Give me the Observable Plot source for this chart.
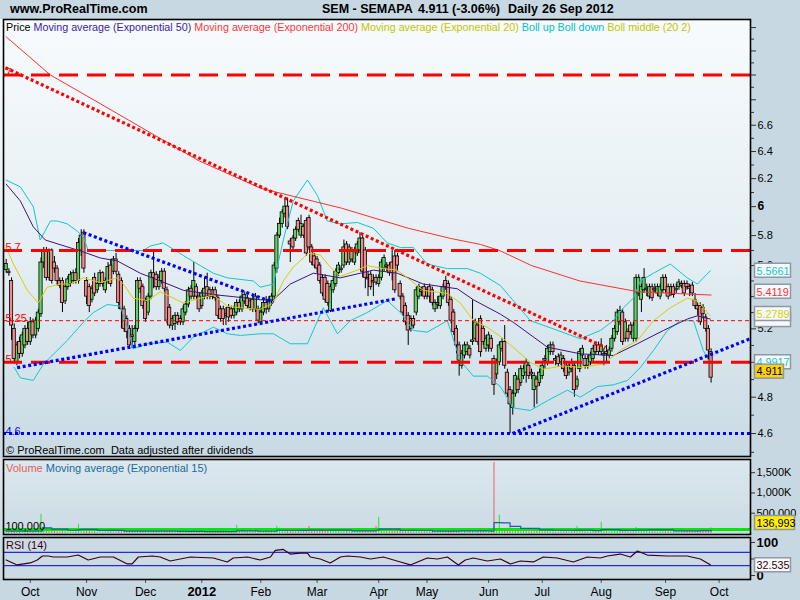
<!DOCTYPE html>
<html><head><meta charset="utf-8">
<script src="https://cdn.jsdelivr.net/npm/d3@7"></script>
<script src="https://cdn.jsdelivr.net/npm/@observablehq/plot@0.6"></script>
<style>
html,body{margin:0;padding:0;background:#c8d8e2;}
#wrap{position:relative;width:800px;height:600px;overflow:hidden;background:#c8d8e2;font-family:"Liberation Sans",Arial,sans-serif;}
.abs{position:absolute;white-space:pre;line-height:14px;}
.pl{position:absolute;left:0;}
</style></head><body><div id="wrap">
<div class="abs" style="left:0;top:19px;width:750px;height:437px;background:linear-gradient(#f7fbfd,#e4eef3 55%,#c9dae4);"></div>
<div class="abs" style="left:0;top:459px;width:750px;height:75px;background:linear-gradient(#dce8ee,#cbdbe4);"></div>
<div class="abs" style="left:0;top:537px;width:750px;height:42px;background:#cbdbe4;"></div>
</div>
<script>
// ---------- DATA ----------
const firstDay = -9; // trading-day index of first candle (0 = 3 Oct 2011)
// daily candles [open, high, low, close]
const candleOHLC = [
[5.57,5.64,5.55,5.61],[5.56,5.58,5.53,5.55],[5.50,5.52,5.13,5.22],[5.20,5.23,4.99,5.02],[5.00,5.12,4.98,5.10],[5.12,5.15,5.02,5.05],[5.05,5.18,5.03,5.16],[5.10,5.22,5.08,5.20],[5.20,5.24,5.10,5.12],[5.12,5.27,5.10,5.24],
[5.24,5.26,5.14,5.16],[5.16,5.27,5.14,5.25],[5.20,5.32,5.18,5.30],[5.29,5.65,5.27,5.62],[5.62,5.72,5.58,5.70],[5.70,5.72,5.50,5.52],[5.52,5.71,5.50,5.70],[5.70,5.71,5.48,5.50],[5.62,5.66,5.55,5.58],[5.58,5.60,5.47,5.50],
[5.50,5.52,5.45,5.47],[5.50,5.52,5.30,5.36],[5.37,5.48,5.35,5.46],[5.46,5.53,5.44,5.51],[5.48,5.56,5.46,5.54],[5.50,5.57,5.48,5.55],[5.55,5.58,5.48,5.50],[5.50,5.78,5.48,5.75],[5.70,5.84,5.66,5.80],[5.82,5.84,5.55,5.58],
[5.50,5.52,5.35,5.40],[5.46,5.48,5.30,5.34],[5.38,5.47,5.36,5.45],[5.52,5.55,5.40,5.42],[5.44,5.50,5.42,5.48],[5.48,5.57,5.46,5.55],[5.55,5.56,5.46,5.48],[5.44,5.52,5.42,5.50],[5.50,5.62,5.48,5.59],[5.60,5.64,5.46,5.48],
[5.56,5.66,5.54,5.64],[5.64,5.68,5.54,5.56],[5.54,5.56,5.32,5.36],[5.50,5.52,5.20,5.32],[5.32,5.34,5.18,5.20],[5.26,5.28,5.14,5.18],[5.20,5.22,5.08,5.10],[5.16,5.22,5.08,5.15],[5.12,5.22,5.10,5.20],[5.20,5.52,5.18,5.50],
[5.50,5.52,5.42,5.45],[5.46,5.48,5.32,5.34],[5.37,5.39,5.24,5.26],[5.30,5.42,5.28,5.40],[5.40,5.57,5.38,5.55],[5.55,5.70,5.45,5.52],[5.54,5.56,5.44,5.46],[5.46,5.54,5.44,5.52],[5.50,5.58,5.48,5.56],[5.56,5.58,5.43,5.45],
[5.44,5.46,5.23,5.25],[5.33,5.35,5.20,5.22],[5.22,5.28,5.19,5.26],[5.23,5.30,5.19,5.28],[5.28,5.30,5.22,5.24],[5.26,5.28,5.22,5.24],[5.24,5.34,5.22,5.32],[5.30,5.37,5.28,5.35],[5.35,5.46,5.33,5.44],[5.45,5.47,5.38,5.40],
[5.40,5.62,5.38,5.50],[5.46,5.48,5.38,5.40],[5.40,5.42,5.30,5.32],[5.34,5.44,5.32,5.42],[5.40,5.52,5.38,5.45],[5.46,5.55,5.38,5.40],[5.44,5.46,5.38,5.40],[5.40,5.46,5.38,5.44],[5.44,5.46,5.37,5.39],[5.39,5.41,5.26,5.28],
[5.32,5.34,5.24,5.26],[5.32,5.34,5.22,5.26],[5.28,5.33,5.22,5.29],[5.33,5.35,5.24,5.27],[5.32,5.34,5.26,5.28],[5.28,5.34,5.26,5.32],[5.30,5.38,5.28,5.36],[5.36,5.38,5.30,5.32],[5.32,5.42,5.30,5.40],[5.37,5.43,5.35,5.41],
[5.39,5.41,5.32,5.34],[5.33,5.39,5.31,5.37],[5.38,5.40,5.30,5.32],[5.32,5.42,5.30,5.40],[5.32,5.34,5.23,5.25],[5.24,5.33,5.22,5.30],[5.30,5.38,5.28,5.36],[5.36,5.40,5.29,5.32],[5.32,5.40,5.30,5.38],[5.37,5.42,5.34,5.40],
[5.40,5.62,5.38,5.60],[5.58,5.82,5.55,5.80],[5.80,5.92,5.78,5.88],[5.88,5.98,5.85,5.96],[5.95,6.06,5.92,6.00],[6.00,6.06,5.84,5.86],[5.76,5.78,5.62,5.74],[5.78,5.80,5.70,5.72],[5.78,5.86,5.76,5.84],[5.90,5.92,5.82,5.84],
[5.80,5.94,5.78,5.88],[5.86,5.88,5.78,5.80],[5.90,5.92,5.66,5.68],[5.92,5.94,5.70,5.72],[5.72,5.74,5.60,5.62],[5.66,5.68,5.58,5.60],[5.64,5.66,5.55,5.58],[5.60,5.62,5.48,5.50],[5.52,5.54,5.40,5.42],[5.52,5.54,5.36,5.38],
[5.48,5.50,5.34,5.36],[5.31,5.48,5.30,5.46],[5.44,5.52,5.42,5.50],[5.48,5.58,5.46,5.56],[5.55,5.62,5.53,5.60],[5.57,5.60,5.55,5.58],[5.60,5.77,5.58,5.72],[5.74,5.76,5.60,5.62],[5.62,5.74,5.60,5.72],[5.70,5.72,5.62,5.64],
[5.62,5.72,5.60,5.70],[5.68,5.76,5.66,5.74],[5.70,5.82,5.68,5.78],[5.78,5.80,5.52,5.56],[5.70,5.72,5.45,5.52],[5.52,5.56,5.40,5.51],[5.54,5.56,5.44,5.46],[5.50,5.54,5.40,5.49],[5.52,5.54,5.47,5.49],[5.48,5.54,5.46,5.52],
[5.52,5.64,5.50,5.62],[5.58,5.67,5.56,5.65],[5.60,5.62,5.56,5.59],[5.60,5.62,5.53,5.55],[5.62,5.70,5.50,5.55],[5.66,5.70,5.42,5.44],[5.66,5.68,5.56,5.60],[5.48,5.50,5.38,5.40],[5.40,5.42,5.28,5.30],[5.34,5.36,5.22,5.24],
[5.28,5.30,5.10,5.19],[5.20,5.28,5.18,5.26],[5.26,5.28,5.20,5.22],[5.30,5.46,5.28,5.44],[5.40,5.48,5.38,5.46],[5.44,5.46,5.40,5.43],[5.46,5.48,5.38,5.40],[5.40,5.46,5.38,5.44],[5.46,5.48,5.36,5.40],[5.44,5.46,5.34,5.36],
[5.32,5.38,5.30,5.36],[5.36,5.40,5.32,5.35],[5.34,5.42,5.32,5.40],[5.40,5.48,5.38,5.46],[5.50,5.53,5.44,5.46],[5.48,5.50,5.34,5.36],[5.38,5.40,5.23,5.25],[5.30,5.32,5.16,5.18],[5.20,5.22,5.05,5.10],[5.10,5.12,4.92,5.01],
[4.98,5.07,4.96,5.05],[5.04,5.12,5.02,5.10],[5.06,5.12,5.04,5.10],[5.08,5.10,5.02,5.04],[5.12,5.38,5.10,5.13],[5.14,5.26,5.12,5.24],[5.22,5.24,5.10,5.12],[5.26,5.28,5.03,5.06],[5.20,5.22,5.10,5.12],[5.08,5.16,5.06,5.14],
[5.10,5.18,5.06,5.16],[5.14,5.16,5.06,5.08],[5.02,5.04,4.81,4.87],[4.93,5.02,4.90,5.00],[5.00,5.12,4.98,5.10],[5.08,5.14,5.06,5.12],[5.12,5.22,4.96,4.98],[4.94,4.96,4.80,4.82],[4.84,4.86,4.60,4.76],[4.74,4.84,4.70,4.82],
[4.82,4.94,4.80,4.92],[4.90,4.92,4.82,4.84],[4.88,4.98,4.86,4.96],[4.92,4.98,4.90,4.96],[4.94,5.02,4.88,5.00],[4.98,5.00,4.90,4.92],[4.94,4.96,4.90,4.93],[4.84,4.94,4.74,4.92],[4.90,4.92,4.76,4.86],[4.88,4.96,4.86,4.94],
[4.92,5.00,4.90,4.98],[5.02,5.04,4.96,5.01],[5.00,5.10,4.98,5.08],[5.06,5.12,5.04,5.10],[5.10,5.12,5.04,5.06],[5.02,5.04,4.98,5.01],[5.03,5.05,4.97,4.99],[5.00,5.06,4.98,5.04],[5.02,5.04,4.94,4.96],[4.98,5.00,4.90,4.92],
[4.94,5.00,4.92,4.98],[5.00,5.02,4.94,4.96],[4.98,5.00,4.80,4.84],[4.86,4.92,4.84,4.90],[4.96,5.08,4.94,5.06],[5.04,5.10,5.02,5.08],[5.02,5.04,4.96,4.98],[4.98,5.04,4.96,5.02],[5.00,5.06,4.98,5.04],[5.02,5.10,5.00,5.08],
[5.10,5.12,5.04,5.06],[5.10,5.12,5.04,5.06],[5.06,5.14,5.04,5.10],[5.04,5.08,4.98,5.05],[5.06,5.10,5.00,5.05],[5.04,5.09,5.02,5.07],[5.08,5.16,5.06,5.14],[5.14,5.22,5.12,5.20],[5.18,5.32,5.16,5.30],[5.24,5.34,5.22,5.31],
[5.30,5.32,5.10,5.12],[5.14,5.26,5.12,5.24],[5.18,5.20,5.12,5.14],[5.22,5.24,5.16,5.18],[5.14,5.24,5.12,5.22],[5.14,5.54,5.12,5.52],[5.42,5.54,5.40,5.52],[5.38,5.48,5.30,5.46],[5.44,5.58,5.42,5.52],[5.44,5.48,5.40,5.45],
[5.40,5.48,5.38,5.46],[5.46,5.48,5.37,5.39],[5.45,5.48,5.42,5.44],[5.42,5.48,5.40,5.46],[5.40,5.48,5.38,5.46],[5.44,5.54,5.42,5.52],[5.52,5.54,5.42,5.44],[5.46,5.48,5.38,5.40],[5.42,5.48,5.40,5.46],[5.46,5.48,5.39,5.41],
[5.44,5.48,5.42,5.45],[5.46,5.51,5.44,5.49],[5.48,5.50,5.45,5.47],[5.48,5.50,5.40,5.42],[5.48,5.50,5.44,5.46],[5.46,5.48,5.40,5.45],[5.47,5.49,5.40,5.42],[5.38,5.42,5.32,5.34],[5.34,5.36,5.28,5.32],[5.34,5.36,5.22,5.24],
[5.33,5.35,5.26,5.29],[5.27,5.29,5.18,5.20],[5.20,5.22,5.00,5.07],[5.06,5.08,4.88,4.911]
];
// daily volume, thousands of shares
const volumeK = [
40,30,90,110,150,60,70,50,60,55,
45,40,70,475,120,80,60,70,50,40,
35,60,40,30,35,30,40,225,110,80,
60,45,40,50,35,40,30,35,50,45,
40,35,60,70,50,45,60,40,35,90,
50,45,40,35,60,70,40,30,35,45,
60,50,40,35,30,25,40,35,50,40,
60,35,40,30,35,45,30,25,30,40,
35,40,30,45,35,40,200,50,60,45,
40,35,30,50,60,40,35,45,50,60,
110,175,130,90,100,80,70,60,50,55,
60,50,70,175,80,60,50,45,70,60,
50,60,125,70,50,40,60,50,45,40,
50,45,60,80,70,50,40,45,175,400,
80,60,50,40,60,90,70,60,70,80,
90,50,40,70,60,40,45,50,40,50,
35,30,40,50,45,60,70,80,90,110,
70,60,50,45,70,60,50,80,60,50,
45,50,1750,120,450,100,90,130,150,100,
80,60,70,50,60,40,35,60,50,45,
40,50,60,45,40,35,30,40,35,50,
40,45,100,175,60,70,40,35,40,45,
40,35,275,50,40,35,45,60,80,70,
90,50,40,35,45,150,100,125,125,60,
50,45,40,35,40,60,50,45,40,35,
40,35,30,40,100,45,40,60,70,60,
80,90,125,137
];
// indicator lines [tradingDay, value]
const ema200 = [[-9,7.32],[7.5,7.00],[26,6.77],[45,6.54],[63,6.33],[86,6.13],[116,5.99],[141,5.85],[157,5.78],[168,5.74],[175,5.70],[187,5.60],[205,5.50],[227,5.43],[254,5.41]];
const ema50 = [[-9,6.16],[-3.7,6.04],[1.1,5.86],[5.6,5.77],[19.8,5.69],[26.1,5.65],[32.5,5.63],[41,5.55],[48.5,5.50],[57.1,5.44],[69.8,5.41],[75.7,5.40],[85.8,5.38],[90.7,5.38],[97,5.48],[105.6,5.55],[115.7,5.52],[128,5.57],[136.9,5.55],[146.6,5.48],[159.3,5.45],[165.3,5.38],[175.4,5.29],[180.2,5.24],[192.9,5.09],[205.2,5.05],[217.5,5.04],[226.5,5.11],[236.2,5.19],[245.1,5.26],[248.9,5.28],[253.7,5.26]];
const ema20 = [[-9,5.72],[-6.3,5.61],[-1.1,5.44],[3,5.36],[6.3,5.46],[11.2,5.48],[14.9,5.48],[19.8,5.52],[26.1,5.49],[32.5,5.52],[34.7,5.48],[38.4,5.39],[43.7,5.375],[48.5,5.43],[53.4,5.39],[57.1,5.36],[63.4,5.39],[68.3,5.41],[73.5,5.34],[78.4,5.33],[85.8,5.32],[90.7,5.36],[94.4,5.50],[98.1,5.59],[103.7,5.68],[108.2,5.67],[111.9,5.59],[115.7,5.53],[122,5.57],[125.7,5.60],[131.7,5.58],[136.9,5.57],[140.7,5.52],[146.6,5.44],[155.6,5.42],[160.4,5.36],[165.3,5.25],[170.5,5.21],[176.5,5.14],[186.6,5.00],[191.4,4.96],[198.9,4.98],[205.2,4.97],[213.8,4.99],[220.1,5.07],[226.5,5.13],[232.5,5.25],[238.8,5.33],[245.1,5.39],[248.9,5.375],[253.7,5.2789]];
const bollUp = [[-9,6.19],[-3.7,6.14],[1.1,6.00],[3.7,5.77],[7.5,5.90],[10.1,5.90],[13.8,5.88],[17.5,5.83],[19.8,5.79],[21.6,5.70],[29.9,5.70],[42.2,5.70],[44.8,5.73],[49.6,5.75],[58.6,5.65],[63.4,5.60],[68.3,5.55],[73.5,5.52],[83.2,5.50],[85.8,5.46],[90.7,5.48],[94.4,5.77],[98.1,6.04],[103.4,6.19],[107.1,6.08],[110.8,5.90],[115.7,5.88],[122,5.89],[128,5.85],[133.2,5.75],[138.1,5.72],[142.9,5.72],[148.1,5.61],[155.6,5.58],[163.1,5.58],[167.9,5.55],[175.4,5.47],[186.6,5.25],[195.1,5.20],[205.2,5.14],[212.7,5.19],[217.5,5.25],[221.3,5.33],[225,5.39],[227.6,5.50],[232.5,5.55],[238.8,5.61],[245.1,5.52],[248.9,5.48],[253.7,5.5661]];
const bollDown = [[-6,4.97],[-3.7,4.91],[1.1,4.895],[4.9,4.99],[7.5,5.03],[13.8,5.13],[19.8,5.24],[23.5,5.30],[28.7,5.35],[33.6,5.34],[36.2,5.21],[38.4,5.08],[43.7,5.11],[51.1,5.12],[56,5.07],[60.8,5.15],[68.3,5.21],[73.5,5.17],[78.4,5.16],[85.8,5.17],[90.7,5.17],[97,5.11],[103.4,5.11],[109.3,5.33],[114.6,5.17],[119.4,5.25],[125.7,5.30],[133.2,5.375],[138.1,5.30],[142.9,5.19],[148.1,5.18],[155.6,5.25],[160.4,5.01],[165.3,4.92],[170.5,4.92],[175.4,4.86],[180.2,4.74],[186.6,4.726],[192.9,4.78],[200.4,4.84],[205.2,4.80],[211.6,4.86],[217.5,4.87],[222.8,4.895],[227.6,4.97],[232.5,5.07],[237.7,5.19],[242.5,5.25],[247.4,5.25],[251.1,5.07],[253.7,4.9917]];
const volEma15 = [[-9,60],[3,55],[4.5,140],[8,110],[14,80],[18,95],[19,100],[25,75],[35,60],[45,60],[55,50],[65,45],[76,45],[77,65],[85,55],[92,80],[100,75],[104,85],[113,85],[120,65],[129,80],[130,110],[138,80],[150,60],[160,65],[172,55],[173,270],[176,260],[179,175],[183,125],[190,90],[195,80],[203,85],[210,70],[213,95],[220,75],[226,85],[230,90],[240,65],[250,70],[254,75]];
const rsi14 = [[-9,47],[-4.9,32],[0,38],[2.6,47],[4.5,59],[6.7,59],[8.6,56],[13.8,56],[17.9,62],[21.6,47],[26.1,56],[31,56],[36.2,35],[38,35],[40.3,56],[45.5,59],[48.5,56],[52.2,44],[59.7,56],[68.3,53],[73.5,41],[75.7,53],[81,56],[85.8,47],[89.6,56],[91.4,76],[94.4,79],[97,65],[100.7,68],[103.4,68],[104.5,56],[108.2,50],[111.9,38],[115.7,56],[118.3,59],[123.1,56],[126.9,50],[131.7,56],[138.1,41],[141.8,32],[148.1,53],[151.9,50],[155.6,56],[159.7,32],[162.3,47],[165.3,53],[170.5,44],[175.4,50],[179.1,35],[182.8,44],[187.7,41],[191.4,56],[196.6,53],[202.6,41],[207.8,56],[212.7,53],[215.3,59],[220.1,65],[223.9,56],[226.5,74],[230.2,62],[237.7,59],[242.5,59],[245.1,59],[250,50],[253.7,32.535]];
// drawn levels & trendlines
const redLevels = [7, 5.7, 5];
const thinRedLevels = [5.25];
const blueLevels = [4.6];
const redTrend = [[-9.3,7.06],[214.6,5.087]];
const blueTrendA = [[19.8,5.82],[90.7,5.363]];
const blueTrendB = [[-4.9,4.969],[136.9,5.388]];
const blueTrendC = [[179.9,4.60],[268.7,5.141]];
const volumeLevels = [100];
const rsiLevels = [70, 30];
// last values (third one is the EMA50 tag, covered by the EMA20 tag)
const lastValues = [5.5661, 5.4119, 5.26, 5.2789, 4.9917, 4.911];
const lastVolume = 136993;
const lastRsi = 32.535;
// axis ticks (labels fully hidden behind value boxes omitted)
const priceTicks = [4.6,4.8,5.2,5.6,5.8,6.2,6.4,6.6,6.8,7.2,7.4];
const priceBoldTicks = [6,7];
const priceMinorTicks = [4.5,4.7,4.9,5,5.1,5.3,5.4,5.5,5.7,5.9,6.1,6.3,6.5,6.7,6.9,7.1,7.3];
const volTicks = [500,1000,1500];
const rsiTicks = [0,100];
const rsiMinorTicks = [50];
const monthTickDays = [0,21,43,64,86,107,130,148,171,191,213,237,257];
const monthTickLabels = ["Oct","Nov","Dec","2012","Feb","Mar","Apr","May","Jun","Jul","Aug","Sep","Oct"];

// ---------- BUILD ----------
const rows = candleOHLC.map((d,k)=>({i:firstDay+k,o:d[0],h:d[1],l:d[2],c:d[3]}));
const vols = volumeK.map((v,k)=>({i:firstDay+k,v,up:rows[k].c>=rows[k].o}));
const volUp = vols.filter(d=>d.up), volDown = vols.filter(d=>!d.up);
const FONT = "Liberation Sans, Arial, sans-serif";
const common = {width:800, marginLeft:3, marginRight:50, x:{domain:[-10,268.7], axis:null},
  style:{background:"transparent", overflow:"visible", fontFamily:FONT, color:"#000"}};
const P = d=>d[0], V = d=>d[1];
const dotted = {strokeWidth:3.2, strokeDasharray:"3,2.6", strokeLinecap:"butt"};
const isUp = d=>d.c>=d.o, isDown = d=>d.c<d.o;
const body = {x1:d=>d.i-0.6,x2:d=>d.i+0.6,y1:"o",y2:"c",stroke:"#000",strokeWidth:0.8};

const main = Plot.plot({...common, height:437, marginTop:0, marginBottom:0,
  y:{type:"log", domain:[4.478,7.47], axis:null},
  marks:[
    Plot.ruleX(rows,{x:"i",y1:"l",y2:"h",stroke:"#000",strokeWidth:1}),
    Plot.rect(rows,{...body,filter:isUp,fill:"#5fd35f"}),
    Plot.rect(rows,{...body,filter:isDown,fill:"#f28a8a"}),
    Plot.line(bollUp,{x:P,y:V,stroke:"#10c8d0",strokeWidth:1}),
    Plot.line(bollDown,{x:P,y:V,stroke:"#10c8d0",strokeWidth:1}),
    Plot.line(ema200,{x:P,y:V,stroke:"#ff3030",strokeWidth:1}),
    Plot.line(ema50,{x:P,y:V,stroke:"#40108c",strokeWidth:1}),
    Plot.line(ema20,{x:P,y:V,stroke:"#d4d000",strokeWidth:1}),
    Plot.ruleY(redLevels,{stroke:"#ff0000",strokeWidth:3,strokeDasharray:"19,9",strokeLinecap:"butt"}),
    Plot.ruleY(thinRedLevels,{stroke:"#ff0000",strokeWidth:1,strokeDasharray:"4,3",strokeLinecap:"butt"}),
    Plot.ruleY(blueLevels,{stroke:"#0000ff",strokeWidth:3,strokeDasharray:"3,3",strokeLinecap:"butt"}),
    Plot.line(redTrend,{x:P,y:V,stroke:"#ff0000",...dotted}),
    Plot.line(blueTrendA,{x:P,y:V,stroke:"#0000ff",...dotted}),
    Plot.line(blueTrendB,{x:P,y:V,stroke:"#0000ff",...dotted}),
    Plot.line(blueTrendC,{x:P,y:V,stroke:"#0000ff",...dotted}),
    Plot.text(redLevels.concat(thinRedLevels),{x:-9.3,y:d=>d,text:d=>String(d),fill:"#ff0000",textAnchor:"start",lineAnchor:"bottom",dy:1,fontSize:11}),
    Plot.text(blueLevels,{x:-9.3,y:d=>d,text:d=>String(d),fill:"#0000ff",textAnchor:"start",lineAnchor:"bottom",dy:1,fontSize:11}),
    Plot.axisY({anchor:"right",ticks:priceMinorTicks,tickSize:3,tickFormat:null,text:null,stroke:"#333"}),
    Plot.axisY({anchor:"right",ticks:priceTicks,tickSize:5,tickPadding:2,fontSize:11,tickFormat:d=>String(+d.toFixed(1)),stroke:"#333"}),
    Plot.axisY({anchor:"right",ticks:priceBoldTicks,tickSize:5,tickPadding:2,fontSize:12,fontWeight:"bold",tickFormat:d=>String(d),stroke:"#333"}),
    Plot.frame({stroke:"#000",strokeWidth:1.6})
  ]});

const vol = Plot.plot({...common, height:75, marginTop:0, marginBottom:0,
  y:{domain:[-25,1825], axis:null},
  marks:[
    Plot.ruleX(volUp,{x:"i",y1:()=>0,y2:"v",stroke:"#33dd33",strokeWidth:1}),
    Plot.ruleX(volDown,{x:"i",y1:()=>0,y2:"v",stroke:"#ee6060",strokeWidth:1}),
    Plot.ruleY(volumeLevels,{stroke:"#00e800",strokeWidth:3}),
    Plot.line(volEma15,{x:P,y:V,stroke:"#1a5fa0",strokeWidth:1.2,curve:"step-after"}),
    Plot.text(volumeLevels,{x:-9.3,y:d=>d,text:d=>d3.format(",")(d*1000),textAnchor:"start",lineAnchor:"bottom",dy:1,fontSize:11,fill:"#000"}),
    Plot.axisY({anchor:"right",ticks:volTicks,tickSize:4,tickPadding:2,fontSize:11,tickFormat:d=>d===500?"500,000":d3.format(",")(d)+"K",stroke:"#333"}),
    Plot.frame({stroke:"#000",strokeWidth:1.6})
  ]});

const tickLabel = new Map(monthTickDays.map((d,k)=>[d,monthTickLabels[k]]));
const rsi = Plot.plot({...common, height:63, marginTop:0, marginBottom:21,
  y:{domain:[-12,115], axis:null},
  marks:[
    Plot.ruleY(rsiLevels,{stroke:"#2828e0",strokeWidth:1.2}),
    Plot.line(rsi14,{x:P,y:V,stroke:"#3a0012",strokeWidth:1.2}),
    Plot.axisY({anchor:"right",ticks:rsiMinorTicks,tickSize:4,tickFormat:null,text:null,stroke:"#333"}),
    Plot.axisY({anchor:"right",ticks:rsiTicks,tickSize:4,tickPadding:2,fontSize:13,fontWeight:"bold",stroke:"#333"}),
    Plot.axisX({anchor:"bottom",ticks:monthTickDays.filter(d=>d!==64),tickSize:4,tickPadding:4,fontSize:12,tickFormat:d=>tickLabel.get(d),stroke:"#555"}),
    Plot.axisX({anchor:"bottom",ticks:[64],tickSize:4,tickPadding:3,fontSize:13,fontWeight:"bold",tickFormat:d=>tickLabel.get(d),stroke:"#555"}),
    Plot.frame({stroke:"#000",strokeWidth:1.6})
  ]});

const wrap = document.getElementById("wrap");
function place(svg, top){ svg.classList.add("pl"); svg.style.top = top+"px"; wrap.appendChild(svg); }
place(main,19); place(vol,459); place(rsi,537);

// remove stray glyphs (e.g. Plot's warning sign) sitting right of the 1,500K label
function dropStray(){
  const wr = wrap.getBoundingClientRect();
  [main,vol,rsi].forEach(s=>{
    d3.select(s).selectAll("text").each(function(){
      if (this.getAttribute("font-family")==="initial" || /\u26A0/.test(this.textContent)) { this.remove(); return; }
      const r = this.getBoundingClientRect();
      const x = r.left - wr.left, y = r.top - wr.top;
      if (x > 780 && y > 455 && y < 476) this.remove();
    });
  });
}
dropStray(); setTimeout(dropStray,0);

function box(svg, y, txt, color, bg, w){
  const g = d3.select(svg).append("g").attr("font-family",FONT).attr("text-anchor","start");
  g.append("rect").attr("x",754.5).attr("y",y-7).attr("width",w).attr("height",14)
    .attr("fill",bg).attr("stroke","#8e99a3").attr("stroke-width",1.5);
  if (txt) g.append("text").attr("x",756.5).attr("y",y+0.5).attr("dy","0.35em").attr("font-size",10.8)
    .attr("text-anchor","start").attr("fill",color).text(txt);
}
const ys = main.scale("y");
const mainStyles = [
  {c:"#10c8d0",bg:"#f6f9fb",dy:0,w:36,show:true},
  {c:"#ff3030",bg:"#f6f9fb",dy:-3,w:36,show:true},
  {c:"#40108c",bg:"#f6f9fb",dy:1,w:36,show:false},
  {c:"#d4d000",bg:"#f6f9fb",dy:-2,w:36,show:true},
  {c:"#10c8d0",bg:"#f6f9fb",dy:-1.5,w:36,show:true},
  {c:"#000",bg:"#ffd200",dy:-6,w:29,show:true}
];
lastValues.forEach((v,k)=>{const s=mainStyles[k]; box(main, ys.apply(v)+s.dy, s.show?String(v):"", s.c, s.bg, s.w);});
box(vol, 63.5, d3.format(",")(lastVolume), "#000", "#ffee00", 40);
box(rsi, rsi.scale("y").apply(lastRsi)+0.5, String(lastRsi), "#3a0012", "#f6f9fb", 36);

// ---------- TEXT OVERLAYS ----------
function txt(html, left, top, style){ const d=document.createElement("div"); d.className="abs"; d.style.left=left+"px"; d.style.top=top+"px"; d.style.cssText+=style||""; d.innerHTML=html; wrap.appendChild(d); }
txt("www.ProRealTime.com",10,2,"font-weight:bold;font-size:12.5px;");
txt("SEM - SEMAPA",322,2,"font-weight:bold;font-size:12.5px;");
txt("4.911 (-3.06%)",418,2,"font-weight:bold;font-size:12.5px;");
txt("Daily",508,2,"font-weight:bold;font-size:12.5px;");
txt("26 Sep 2012",542,2,"font-weight:bold;font-size:12.5px;");
txt('Price <span style="color:#3c1ea0">Moving average (Exponential 50)</span> <span style="color:#ff3838">Moving average (Exponential 200)</span> <span style="color:#c8c400">Moving average (Exponential 20)</span> <span style="color:#00c0c8">Boll up Boll down</span> <span style="color:#c8c400">Boll middle (20 2)</span>',6,20,"font-size:10.75px;");
txt("© ProRealTime.com  Data adjusted after dividends",6,443,"font-size:11px;");
txt('<span style="color:#e06060">Volume</span> <span style="color:#1a6aa0">Moving average (Exponential 15)</span>',6,461,"font-size:11px;");
txt('<span style="color:#3a0012">RSI (14)</span>',6,538,"font-size:11px;");
</script>
</body></html>
